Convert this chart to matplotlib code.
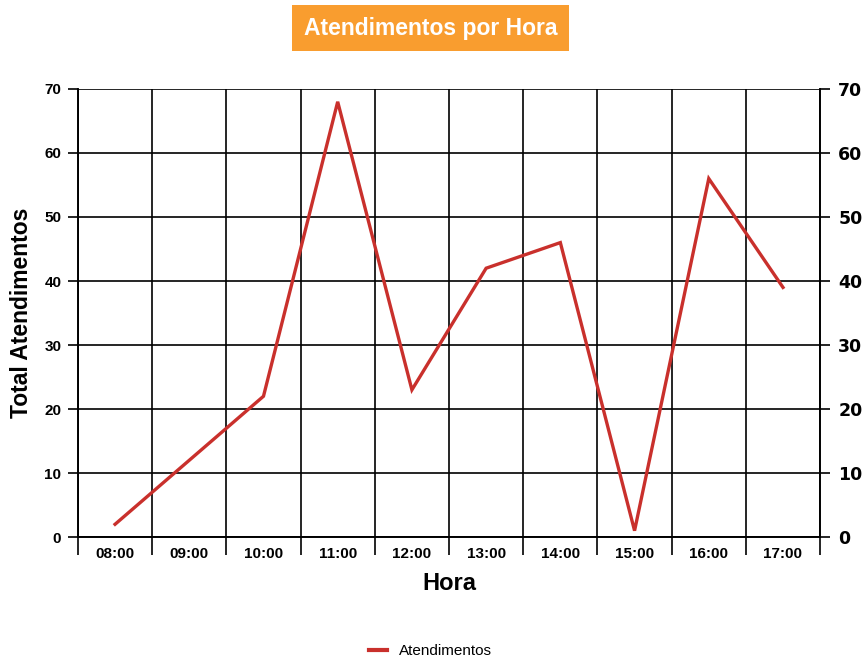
import matplotlib
matplotlib.use("Agg")
import matplotlib.pyplot as plt
from matplotlib.lines import Line2D
import numpy as np

horas = ['08:00', '09:00', '10:00', '11:00', '12:00',
         '13:00', '14:00', '15:00', '16:00', '17:00']
atendimentos = [2, 12, 22, 68, 23, 42, 46, 1, 56, 39]
y_ticks = [0, 10, 20, 30, 40, 50, 60, 70]

red = '#C9302C'
orange = '#F99D2F'

fig = plt.figure(figsize=(8.66, 6.59), dpi=100)
ax = fig.add_axes([0.090, 0.185, 0.857, 0.680])

x = np.arange(len(horas))
ax.plot(x, atendimentos, color=red, linewidth=2.4, solid_joinstyle='miter', zorder=3)

ax.set_xlim(-0.5, len(horas) - 0.5)
ax.set_ylim(0, 70)

# category boundaries as vertical grid
ax.set_xticks(x)
ax.set_xticklabels(horas, family='Liberation Sans', fontweight='bold', fontsize=11)
ax.set_xticks(np.arange(-0.5, len(horas)), minor=True)
ax.tick_params(axis='x', which='major', length=0, pad=7)
ax.tick_params(axis='x', which='minor', length=13, width=1.2, color='black')
ax.grid(True, axis='x', which='minor', color='black', linewidth=1.2)

ax.set_yticks(y_ticks)
ax.set_yticklabels([str(v) for v in y_ticks], family='Liberation Sans',
                   fontweight='bold', fontsize=11)
ax.tick_params(axis='y', length=7, width=1.2, pad=5)
ax.grid(True, axis='y', which='major', color='black', linewidth=1.2)

for s in ax.spines.values():
    s.set_linewidth(1.2)
ax.spines['top'].set_visible(False)

ax2 = ax.twinx()
ax2.set_ylim(0, 70)
ax2.set_yticks(y_ticks)
ax2.set_yticklabels([str(v) for v in y_ticks], family='DejaVu Sans',
                    fontweight='bold', fontsize=12.5)
ax2.tick_params(axis='y', length=7, width=1.2, pad=6)
for s in ax2.spines.values():
    s.set_linewidth(1.2)
ax2.spines['top'].set_visible(False)

ax.set_ylabel('Total Atendimentos', family='Liberation Sans', fontweight='bold',
              fontsize=16.5, labelpad=8)
ax.set_xlabel('Hora', family='Liberation Sans', fontweight='bold',
              fontsize=17, labelpad=8)

fig.text(0.497, 0.957, 'Atendimentos por Hora', ha='center', va='center',
         family='Liberation Sans', fontweight='bold', fontsize=16.5, color='white',
         bbox=dict(boxstyle='square,pad=0.5', facecolor=orange, edgecolor='none'))

handle = Line2D([], [], color=red, linewidth=3)
fig.legend([handle], ['Atendimentos'], loc='center', bbox_to_anchor=(0.497, 0.012),
           frameon=False, handlelength=1.2, prop={'family': 'Liberation Sans', 'size': 11})

fig.savefig('out.png', dpi=100)
